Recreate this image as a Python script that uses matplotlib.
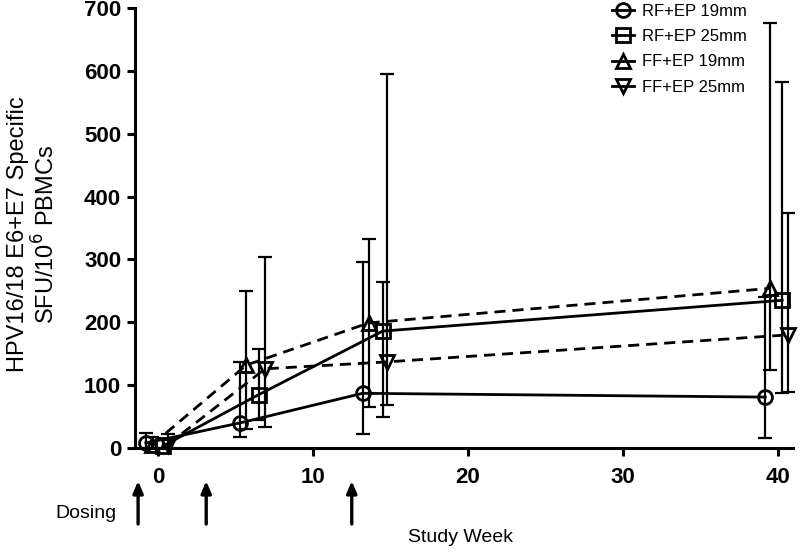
import matplotlib
matplotlib.use("Agg")
import matplotlib.pyplot as plt
import matplotlib.transforms as mtransforms
import numpy as np

plt.rcParams['font.family'] = ['Liberation Sans', 'DejaVu Sans']

series_names = ["RF+EP 19mm", "RF+EP 25mm", "FF+EP 19mm", "FF+EP 25mm"]
markers = ["o", "s", "^", "v"]
linestyles = ["-", "-", "--", "--"]

# x positions (study week, with dodge as drawn)
x_rf19 = [-0.8, 5.3, 13.2, 39.2]
x_rf25 = [0.3, 6.5, 14.5, 40.3]
x_ff19 = [-0.4, 5.7, 13.6, 39.5]
x_ff25 = [0.6, 6.9, 14.8, 40.7]

y_rf19 = [8, 40, 87, 81]
y_rf25 = [3, 85, 186, 235]
y_ff19 = [5, 132, 199, 254]
y_ff25 = [5, 126, 137, 180]

lo_rf19 = [0, 18, 23, 16]
hi_rf19 = [24, 137, 296, 240]
lo_rf25 = [0, 45, 49, 87]
hi_rf25 = [15, 158, 264, 582]
lo_ff19 = [0, 30, 65, 124]
hi_ff19 = [18, 250, 333, 676]
lo_ff25 = [0, 34, 68, 89]
hi_ff25 = [23, 304, 595, 374]

dosing_weeks = [-1.3, 3.1, 12.5]
x_ticks = [0, 10, 20, 30, 40]
y_ticks = [0, 100, 200, 300, 400, 500, 600, 700]

fig = plt.figure(figsize=(8, 5.52), dpi=100)
ax = fig.add_axes([135/800, 1-448/552, (793-135)/800, (448-8)/552])

data = [
    (x_rf19, y_rf19, lo_rf19, hi_rf19),
    (x_rf25, y_rf25, lo_rf25, hi_rf25),
    (x_ff19, y_ff19, lo_ff19, hi_ff19),
    (x_ff25, y_ff25, lo_ff25, hi_ff25),
]

handles = []
for (xs, ys, lo, hi), name, m, ls in zip(data, series_names, markers, linestyles):
    ys = np.array(ys, float)
    err = [ys - np.array(lo, float), np.array(hi, float) - ys]
    eb = ax.errorbar(xs, ys, yerr=err, fmt='none', ecolor='black',
                     elinewidth=1.6, capsize=5, capthick=1.6, zorder=2)
    for c in eb.get_children():
        c.set_clip_on(False)
    ax.plot(xs, ys, color='black', lw=2.0, ls=ls,
            dashes=(4, 2.5) if ls == '--' else (None, None),
            marker=m, ms=10, mfc='none', mec='black', mew=2.0,
            clip_on=False, zorder=3, label=name)
    handles.append(ax.plot([], [], color='black', lw=2.0, ls='-', marker=m, ms=10,
                           mfc='none', mec='black', mew=2.0, label=name)[0])

ax.set_xlim(-1.5, 41)
ax.set_ylim(0, 700)
ax.set_xticks(x_ticks)
ax.set_yticks(y_ticks)
ax.tick_params(axis='both', which='major', direction='out', length=6, width=2.2,
               labelsize=16, pad=4)
for lab in ax.get_xticklabels() + ax.get_yticklabels():
    lab.set_fontweight('bold')
ax.tick_params(axis='x', pad=8)
for s in ['top', 'right']:
    ax.spines[s].set_visible(False)
for s in ['left', 'bottom']:
    ax.spines[s].set_linewidth(2.2)

leg = ax.legend(handles=handles, loc='upper right', bbox_to_anchor=(0.94, 1.025),
                frameon=False, fontsize=12, handlelength=1.3, handletextpad=0.5,
                labelspacing=0.62, borderaxespad=0)

fig.text(33/800, 1-234/552, "HPV16/18 E6+E7 Specific\nSFU/10$^6$ PBMCs",
         rotation=90, ha='center', va='center', fontsize=17, linespacing=1.15,
         multialignment='center')

ax.set_xlabel("Study Week", fontsize=14)
ax.xaxis.set_label_coords((460-135)/658, (448-529)/440)

trans = mtransforms.blended_transform_factory(ax.transData, ax.transAxes)
for w in dosing_weeks:
    ax.annotate("", xy=(w, (448-481)/440), xytext=(w, (448-524)/440),
                xycoords=trans, textcoords=trans, annotation_clip=False,
                arrowprops=dict(arrowstyle='-|>,head_length=0.7,head_width=0.3',
                                color='black', lw=2.4, shrinkA=0, shrinkB=0))
fig.text(86/800, 1-513/552, "Dosing", ha='center', va='center', fontsize=14)

fig.savefig("out.png", dpi=100)
